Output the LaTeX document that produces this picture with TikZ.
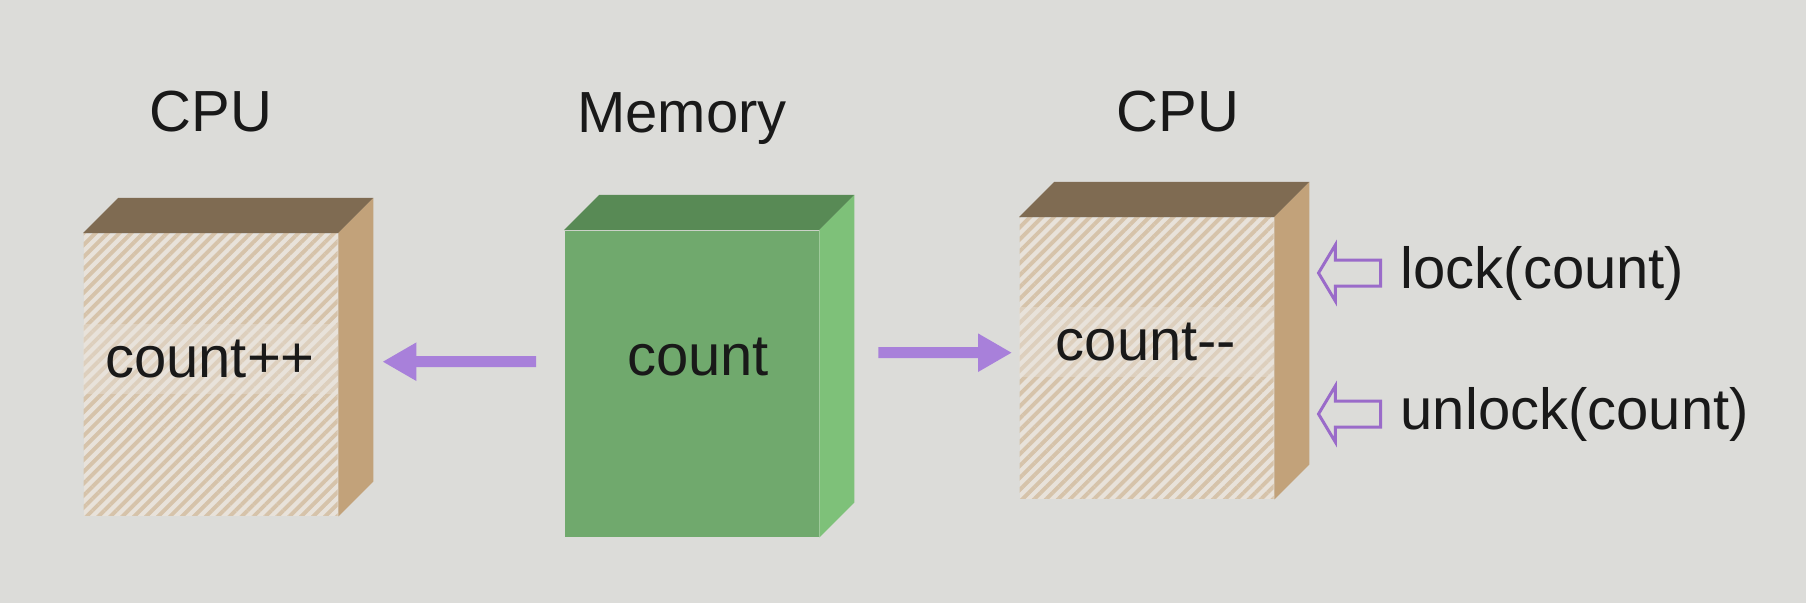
\documentclass[tikz,border=0pt]{standalone}
\usepackage{fontspec}
\setmainfont{Liberation Sans}
\usetikzlibrary{positioning,arrows.meta,patterns.meta,shapes.arrows}

\definecolor{bg}{HTML}{DCDCD9}
\definecolor{tanfront}{HTML}{E8E2DA}
\definecolor{tanline}{HTML}{D6C3AA}
\definecolor{tantop}{HTML}{7F6B52}
\definecolor{tanside}{HTML}{C2A27A}
\definecolor{memfront}{HTML}{70A96D}
\definecolor{memtop}{HTML}{588A55}
\definecolor{memside}{HTML}{7EC179}
\definecolor{flowpurple}{HTML}{A880DA}
\definecolor{lockpurple}{HTML}{9A6BC9}

\tikzset{
    every node/.style={font=\fontsize{16.5}{20}\selectfont, text=black!90},
    front/.style={minimum width=25.4mm, inner sep=0, anchor=north west},
    cpufront/.style={front, fill=tanfront,
        postaction={pattern={Lines[angle=45,distance=2.4pt,line width=1.1pt]}, pattern color=tanline}},
    memfront/.style={front, fill=memfront},
    band/.style={minimum width=25.4mm, minimum height=7mm, inner sep=0,
        fill=tanfront, fill opacity=.4, text opacity=1},
    flow/.style={draw=flowpurple, line width=1.1mm, -{Triangle[length=3.4mm,width=3.6mm]}},
    hollow/.style={single arrow, shape border rotate=180, draw=lockpurple, line width=.3mm,
        fill=bg, inner xsep=0, inner ysep=1.15mm, minimum height=6.2mm,
        single arrow head extend=1.5mm, single arrow tip angle=118},
    call/.style={anchor=west, inner sep=0}
}

\begin{document}
\begin{tikzpicture}[x=0.1mm, y=-0.1mm]
    \fill [bg] (0,0) rectangle (1806,603);
    \useasboundingbox (0,0) rectangle (1806,603);

    % fronts of the three blocks
    \node [cpufront, minimum height=28.2mm] (cpuL) at (83,233) {};
    \node [memfront, minimum height=30.6mm] (mem) at (564,230) {};
    \node [cpufront, minimum height=28.1mm] (cpuR) at (1019,217) {};

    % tops and sides
    \foreach \b/\t/\s in {cpuL/tantop/tanside, mem/memtop/memside, cpuR/tantop/tanside} {
        \fill [\t] (\b.north west) -- ([shift={(35,-35)}]\b.north west)
            -- ([shift={(35,-35)}]\b.north east) -- (\b.north east) -- cycle;
        \fill [\s] (\b.north east) -- ([shift={(35,-35)}]\b.north east)
            -- ([shift={(35,-35)}]\b.south east) -- (\b.south east) -- cycle;
    }

    \node (cpuLlabel) at (211,112) {CPU};
    \node (memlabel) at (682,119) {Memory};
    \node (cpuRlabel) at (1178,112) {CPU};

    \node [band] (inc) at (210,359) {count++};
    \node [inner sep=0] (count) at (698,357) {count};
    \node [band] (dec) at (1146,342) {count-{}-};

    \draw [flow] ([xshift=-2.8mm,yshift=2.2mm]mem.west) -- ([xshift=4.4mm,yshift=1.3mm]cpuL.east);
    \draw [flow] ([xshift=5.9mm,yshift=3.1mm]mem.east) -- ([xshift=-0.7mm,yshift=.55mm]cpuR.west);

    \node [call] (lock) at (1400,273) {lock(count)};
    \node [call] (unlock) at (1400,414) {unlock(count)};
    \node [hollow, left=1.8mm of lock] (lockarrow) {};
    \node [hollow, left=1.8mm of unlock] (unlockarrow) {};
\end{tikzpicture}
\end{document}
